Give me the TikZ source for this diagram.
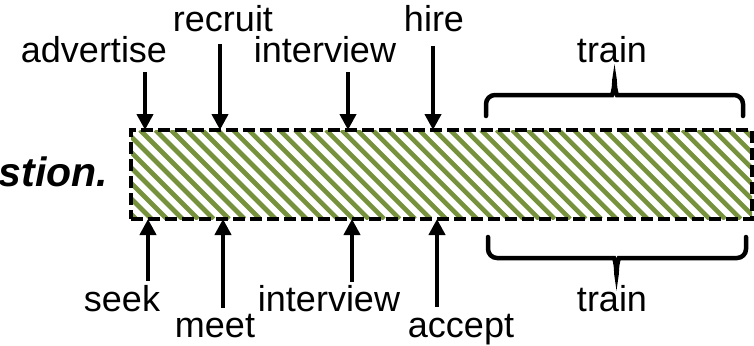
\documentclass[tikz,border=0pt]{standalone}
\usepackage{fontspec}
\setmainfont{Liberation Sans}
\usetikzlibrary{arrows.meta}
\definecolor{stripegreen}{RGB}{118,146,60}
\begin{document}
\begin{tikzpicture}[x=1pt,y=-1pt,
  lbl/.style={anchor=base,inner sep=0pt,font=\fontsize{36}{40}\selectfont},
  arr/.style={line width=4.5pt,-{Triangle[length=16pt,width=16pt]}},
  stripe/.style={line width=4.6pt,stripegreen},
  border/.style={line width=3.3pt,dash pattern=on 12pt off 5pt},
  brace/.style={line width=4.5pt,rounded corners=9pt,line cap=round}]
\useasboundingbox (0,0) rectangle (754,345);
\clip (0,0) rectangle (754,345);

% hatched bar
\begin{scope}
  \clip (131,130) rectangle (752,219);
  \foreach \k in {-7,...,41}
    \draw[stripe] ({140+15.5*\k},130) -- ++(89,89);
\end{scope}
\node[draw,border,minimum width=621pt,minimum height=89pt,inner sep=0pt]
  (bar) at (441.5,174.5) {};

% caption on the left
\node[anchor=base east,inner sep=0pt,font=\fontsize{41}{46}\selectfont\bfseries\itshape]
  (cap) at (108.5,186) {stion.};

% labels above
\node[lbl] (advertise) at (94,63) {advertise};
\node[lbl] (recruit) at (223,32) {recruit};
\node[lbl] (interviewA) at (325,63) {interview};
\node[lbl] (hire) at (434,32) {hire};
\node[lbl] (trainA) at (612,63) {train};

% labels below
\node[lbl] (seek) at (122,311) {seek};
\node[lbl] (meet) at (215,337) {meet};
\node[lbl] (interviewB) at (329,311) {interview};
\node[lbl] (accept) at (461,337) {accept};
\node[lbl] (trainB) at (612,311) {train};

% arrow ends
\coordinate (advS) at (145,72);   \coordinate (advT) at (145,130);
\coordinate (recS) at (220,44);   \coordinate (recT) at (220,130);
\coordinate (intAS) at (348,72);  \coordinate (intAT) at (348,130);
\coordinate (hirS) at (433,46);   \coordinate (hirT) at (433,130);
\coordinate (seeS) at (148,281);  \coordinate (seeT) at (148,219);
\coordinate (meeS) at (223,308);  \coordinate (meeT) at (223,219);
\coordinate (intBS) at (352,282); \coordinate (intBT) at (352,219);
\coordinate (accS) at (437,307);  \coordinate (accT) at (437,219);

\draw[arr] (advS) -- (advT);
\draw[arr] (recS) -- (recT);
\draw[arr] (intAS) -- (intAT);
\draw[arr] (hirS) -- (hirT);
\draw[arr] (seeS) -- (seeT);
\draw[arr] (meeS) -- (meeT);
\draw[arr] (intBS) -- (intBT);
\draw[arr] (accS) -- (accT);

% braces
\draw[brace] (486,116) -- (486,95) -- (603,95)
  .. controls (612,95) and (614,91) .. (614.5,74)
  .. controls (615,91) and (617,95) .. (626,95) -- (743,95) -- (743,116);
\draw[brace] (488,237) -- (488,258) -- (605,258)
  .. controls (614,258) and (616,262) .. (616.5,280)
  .. controls (617,262) and (619,258) .. (628,258) -- (746,258) -- (746,237);
\end{tikzpicture}
\end{document}
